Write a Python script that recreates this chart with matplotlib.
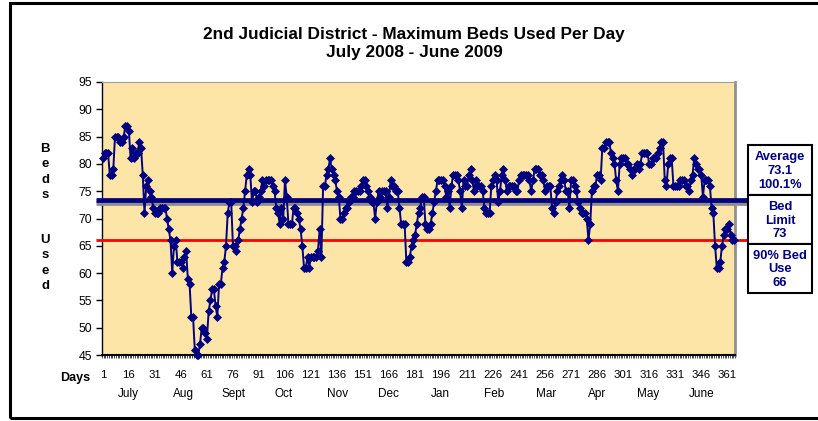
import numpy as np
import matplotlib
matplotlib.use("Agg")
import matplotlib.pyplot as plt
import matplotlib.transforms as mtransforms
from matplotlib.patches import Rectangle

plt.rcParams['font.family'] = ['Liberation Sans', 'DejaVu Sans']

# ---------------- data ----------------
beds = [
    81, 82, 82, 82, 78, 78, 79, 85, 85, 85,
    84, 84, 85, 87, 87, 86, 81, 83, 81, 82,
    82, 84, 83, 78, 71, 76, 77, 75, 74, 72,
    71, 71, 71, 72, 72, 72, 72, 70, 68, 66,
    60, 65, 66, 62, 62, 62, 61, 63, 64, 59,
    58, 52, 52, 46, 45, 45, 47, 50, 50, 49,
    48, 53, 55, 57, 57, 54, 52, 58, 58, 61,
    62, 65, 71, 73, 73, 65, 65, 64, 66, 68,
    70, 72, 75, 78, 79, 78, 73, 75, 75, 73,
    74, 75, 77, 76, 77, 77, 77, 77, 76, 75,
    72, 71, 69, 72, 70, 77, 74, 69, 69, 69,
    72, 72, 71, 70, 68, 65, 61, 61, 63, 61,
    63, 63, 63, 63, 64, 68, 63, 76, 76, 78,
    79, 81, 79, 78, 77, 75, 74, 70, 70, 71,
    72, 72, 73, 74, 74, 75, 75, 75, 75, 76,
    77, 77, 76, 75, 74, 73, 73, 70, 73, 75,
    74, 75, 75, 75, 72, 74, 77, 76, 76, 75,
    75, 72, 69, 69, 69, 62, 62, 63, 65, 66,
    67, 69, 71, 72, 74, 74, 69, 68, 68, 69,
    71, 73, 75, 77, 77, 77, 77, 76, 74, 75,
    72, 76, 78, 78, 78, 77, 75, 72, 77, 76,
    76, 78, 79, 77, 75, 77, 76, 76, 76, 75,
    72, 71, 71, 71, 76, 77, 78, 77, 73, 75,
    78, 79, 77, 75, 76, 76, 76, 76, 75, 75,
    77, 78, 78, 78, 78, 78, 77, 75, 77, 79,
    79, 79, 78, 78, 77, 75, 76, 76, 76, 72,
    71, 73, 75, 76, 77, 78, 77, 75, 75, 72,
    77, 77, 76, 75, 73, 72, 71, 71, 71, 70,
    66, 69, 75, 76, 76, 78, 78, 77, 83, 83,
    84, 84, 84, 82, 81, 80, 77, 75, 80, 81,
    81, 81, 80, 80, 79, 78, 79, 79, 80, 79,
    80, 82, 82, 82, 82, 80, 80, 81, 81, 81,
    82, 83, 84, 84, 77, 76, 80, 81, 81, 76,
    76, 76, 76, 77, 77, 77, 76, 76, 75, 77,
    78, 81, 80, 79, 79, 78, 74, 77, 77, 77,
    76, 72, 71, 65, 61, 61, 62, 65, 67, 68,
    68, 69, 67, 66, 66,
]
days = list(range(1, len(beds) + 1))
average = 73.1
average_pct = "100.1%"
bed_limit = 73
use90 = 66
day_ticks = list(range(1, 362, 15))
months = ["July", "Aug", "Sept", "Oct", "Nov", "Dec",
          "Jan", "Feb", "Mar", "Apr", "May", "June"]
y_ticks = list(range(45, 96, 5))

# ---------------- layout ----------------
W, H = 818, 421
fig = plt.figure(figsize=(W / 100, H / 100), dpi=100)
fig.patch.set_facecolor('white')

def fx(px):
    return px / W

def fy(py):
    return 1 - py / H

ax_l, ax_r, ax_t, ax_b = 102, 735, 82, 355
ax = fig.add_axes([fx(ax_l), fy(ax_b), (ax_r - ax_l) / W, (ax_b - ax_t) / H])
ax.set_facecolor('#FCE5A6')
ax.set_xlim(0.5, 365.5)
ax.set_ylim(45, 95)

navy = '#000080'
trans = mtransforms.blended_transform_factory(ax.transAxes, ax.transData)
x0 = (96 - ax_l) / (ax_r - ax_l)
x1 = (748 - ax_l) / (ax_r - ax_l)
ax.plot([x0, x1], [bed_limit - 0.1, bed_limit - 0.1], color='#8C8C8C', lw=3.4,
        transform=trans, clip_on=False, zorder=3, solid_capstyle='butt')
ax.plot([x0, x1], [average + 0.2, average + 0.2], color=navy, lw=3.4,
        transform=trans, clip_on=False, zorder=3, solid_capstyle='butt')
ax.plot([x0, x1], [use90, use90], color='#FF0000', lw=2.0,
        transform=trans, clip_on=False, zorder=3, solid_capstyle='butt')

ax.plot(days, beds, color=navy, lw=1.4, marker='D', ms=3.9,
        mfc=navy, mec=navy, mew=0.5, zorder=5, clip_on=False)

# spines
for s in ['left', 'bottom']:
    ax.spines[s].set_color('black')
ax.spines['left'].set_linewidth(1.0)
ax.spines['bottom'].set_linewidth(1.5)
ax.spines['top'].set_color('#A0A0A0')
ax.spines['top'].set_linewidth(0.8)
ax.spines['right'].set_color('#909090')
ax.spines['right'].set_linewidth(2.0)

ax.set_yticks(y_ticks)
ax.tick_params(axis='y', direction='out', length=4, width=1, labelsize=8.8,
               pad=3, colors='black')
ax.set_xticks(day_ticks)
ax.set_xticklabels([str(d) for d in day_ticks])
ax.tick_params(axis='x', which='major', length=0, labelsize=8.2, pad=11)
ax.set_xticks(np.arange(0.5, 366, 1.0), minor=True)
ax.tick_params(axis='x', which='minor', direction='out', length=2.5, width=0.5,
               colors='black')

# month labels
month_px = [128, 183, 233, 284, 338, 388, 440, 494, 546, 597, 648, 702]
for m, px in zip(months, month_px):
    fig.text(fx(px), fy(394), m, ha='center', va='center', fontsize=8.5)

fig.text(fx(75), fy(378), "Days", ha='center', va='center', fontsize=9,
         fontweight='bold')

# vertical y label
fig.text(fx(45), fy(172), "B\ne\nd\ns", ha='center', va='center', fontsize=9.5,
         fontweight='bold', linespacing=1.4)
fig.text(fx(45), fy(263), "U\ns\ne\nd", ha='center', va='center', fontsize=9.5,
         fontweight='bold', linespacing=1.4)

# title
fig.text(fx(414), fy(35), "2nd Judicial District - Maximum Beds Used Per Day",
         ha='center', va='center', fontsize=12.4, fontweight='bold')
fig.text(fx(414), fy(53), "July 2008 - June 2009",
         ha='center', va='center', fontsize=12.4, fontweight='bold')

# right-hand boxes
boxes = [(145, 195, "Average\n%.1f\n%s" % (average, average_pct)),
         (195, 244, "Bed\nLimit\n%d" % bed_limit),
         (244, 293, "90%% Bed\nUse\n%d" % use90)]
bx0, bx1 = 748, 812
for top, bot, txt in boxes:
    fig.patches.append(Rectangle((fx(bx0), fy(bot)), (bx1 - bx0) / W, (bot - top) / H,
                                 transform=fig.transFigure, facecolor='white',
                                 edgecolor='black', lw=1.5, zorder=6))
    fig.text(fx((bx0 + bx1) / 2), fy((top + bot) / 2 + 1), txt, ha='center',
             va='center', fontsize=9.3, fontweight='bold', color=navy,
             linespacing=1.22, zorder=7)

# outer frame
fig.patches.append(Rectangle((fx(10), fy(418)), (830 - 10) / W, (418 - 3) / H,
                             transform=fig.transFigure, facecolor='none',
                             edgecolor='black', lw=2.2, zorder=1))

fig.savefig("out.png", dpi=100)
